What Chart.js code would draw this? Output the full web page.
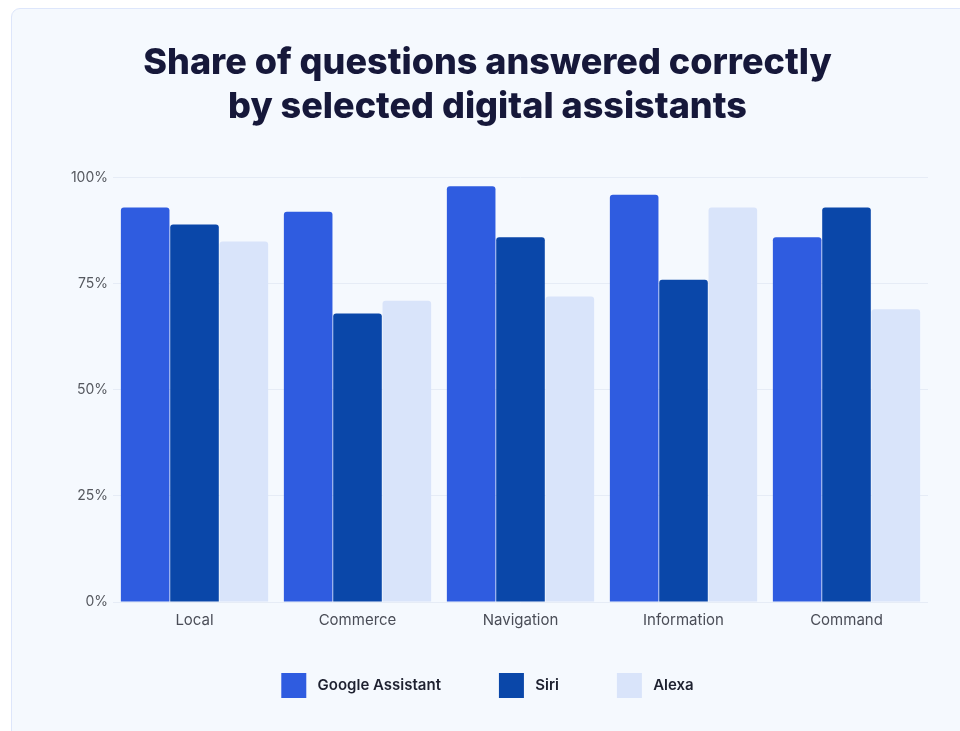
<!DOCTYPE html>
<html>
<head>
<meta charset="utf-8">
<script src="https://cdn.jsdelivr.net/npm/chart.js@4.4.1/dist/chart.umd.min.js"></script>
<style>
    html, body {
        margin: 0;
        padding: 0;
        background: #ffffff;
        overflow: hidden;
    }
    .card {
        position: absolute;
        left: 11px;
        top: 8px;
        width: 1000px;
        height: 800px;
        border: 1.5px solid #dde6fb;
        border-radius: 9px;
        background: #f5f9fe;
    }
    .wrap {
        position: absolute;
        left: 0;
        top: 0;
        width: 960px;
        height: 731px;
    }
</style>
</head>
<body>
<div class="card"></div>
<div class="wrap"><canvas id="barChart"></canvas></div>
<script>
const categories = ["Local", "Commerce", "Navigation", "Information", "Command"];
const googleValues = [93, 92, 98, 96, 86];
const siriValues = [89, 68, 86, 76, 93];
const alexaValues = [85, 71, 72, 93, 69];
const yTicks = [0, 25, 50, 75, 100];

const chartEl = document.getElementById("barChart");

function series(label, data, color) {
    return {
        label: label,
        data: data,
        backgroundColor: color,
        borderWidth: 0,
        borderRadius: { topLeft: 3, topRight: 3, bottomLeft: 0, bottomRight: 0 },
        borderSkipped: false,
        categoryPercentage: 0.908,
        barPercentage: 0.985,
    };
}

// legend padding is used above the items too; nudge the legend up a little
const legendNudge = {
    id: "legendNudge",
    afterLayout(chart) {
        chart.legend.top -= 23;
        chart.legend.bottom -= 23;
    },
};

new Chart(chartEl, {
    type: "bar",
    data: {
        labels: categories,
        datasets: [
            series("Google Assistant", googleValues, "#2f5ce0"),
            series("Siri", siriValues, "#0a47a9"),
            series("Alexa", alexaValues, "#d9e4fa"),
        ],
    },
    plugins: [legendNudge],
    options: {
        responsive: true,
        maintainAspectRatio: false,
        animation: false,
        layout: {
            padding: { left: 47, right: 32, top: 41, bottom: 0 },
        },
        plugins: {
            title: {
                display: true,
                text: ["Share of questions answered correctly", "by selected digital assistants"],
                color: "#16183a",
                font: { family: "Inter", size: 36, weight: "800", lineHeight: 1.22 },
                padding: { top: 0, bottom: 49 },
            },
            legend: {
                position: "bottom",
                labels: {
                    boxWidth: 25,
                    boxHeight: 25,
                    padding: 58,
                    color: "#1e2130",
                    font: { family: "Inter", size: 15, weight: "600" },
                    // small gap between the swatch and its text, as in the original
                    generateLabels: (chart) =>
                        Chart.defaults.plugins.legend.labels.generateLabels(chart).map((item) => {
                            item.text = " " + item.text;
                            return item;
                        }),
                },
            },
            tooltip: { enabled: false },
        },
        scales: {
            x: {
                grid: { display: false, drawTicks: false },
                border: { display: false },
                ticks: {
                    color: "#4a4d57",
                    padding: 9,
                    maxRotation: 0,
                    font: { family: "Inter", size: 15 },
                },
            },
            y: {
                min: 0,
                max: 100,
                afterBuildTicks: (scale) => {
                    scale.ticks = yTicks.map((v) => ({ value: v }));
                },
                afterFit: (scale) => {
                    scale.width = 66;
                },
                grid: { color: "#e6ecf6", drawTicks: false },
                border: { display: false },
                ticks: {
                    color: "#55585f",
                    padding: 5,
                    font: { family: "Inter", size: 14 },
                    callback: (v) => v + "%",
                },
            },
        },
    },
});
</script>
</body>
</html>
